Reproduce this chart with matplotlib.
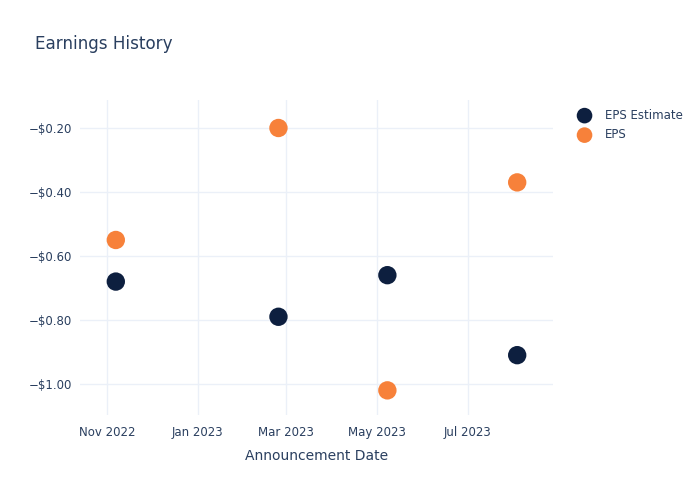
import matplotlib
matplotlib.use("Agg")
import matplotlib.pyplot as plt
import matplotlib.ticker as mticker
import datetime as dt

dates = ["2022-11-07", "2023-02-24", "2023-05-08", "2023-08-03"]
eps_estimate = [-0.68, -0.79, -0.66, -0.91]
eps_actual = [-0.55, -0.20, -1.02, -0.37]
tick_dates = ["2022-11-01", "2023-01-01", "2023-03-01", "2023-05-01", "2023-07-01"]
tick_labels = ["Nov 2022", "Jan 2023", "Mar 2023", "May 2023", "Jul 2023"]

x = [dt.datetime.strptime(d, "%Y-%m-%d") for d in dates]
ticks = [dt.datetime.strptime(d, "%Y-%m-%d") for d in tick_dates]

text_color = "#2a3f5f"
grid_color = "#ebf0f8"
navy = "#0d1f3f"
orange = "#f7813a"

plt.rcParams['font.family'] = ['DejaVu Sans']
fig = plt.figure(figsize=(7, 5), dpi=100)
ax = fig.add_axes([80/700, 1-415/500, (553-80)/700, (415-100)/500])

ax.scatter(x, eps_estimate, s=175, color=navy, zorder=3, label="EPS Estimate", edgecolors='none')
ax.scatter(x, eps_actual, s=175, color=orange, zorder=3, label="EPS", edgecolors='none')

ax.set_xlim(dt.datetime(2022, 10, 14), dt.datetime(2023, 8, 27))
ax.set_ylim(-1.097, -0.1125)
ax.set_xticks(ticks)
ax.set_xticklabels(tick_labels)
ax.set_yticks([-1.0, -0.8, -0.6, -0.4, -0.2])
ax.yaxis.set_major_formatter(mticker.FuncFormatter(lambda v, p: ("\u2212$%.2f" % abs(v)) if v < 0 else "$%.2f" % v))

for s in ax.spines.values():
    s.set_visible(False)
ax.grid(True, color=grid_color, linewidth=1)
ax.set_axisbelow(True)
ax.tick_params(axis='both', length=0, labelsize=8.5, colors=text_color, pad=6)
ax.tick_params(axis='x', pad=8)
ax.set_xlabel("Announcement Date", fontsize=10, color=text_color, labelpad=7)

fig.text(35/700, 1-44/500, "Earnings History", fontsize=12.1, color=text_color, va='center', ha='left')

leg = fig.legend(loc='upper left', bbox_to_anchor=(568/700, 1-104/500), frameon=False,
                 fontsize=8.5, labelcolor=text_color, handletextpad=0.75, labelspacing=0.55,
                 borderaxespad=0, markerscale=0.85)

fig.savefig("out.png", dpi=100)
